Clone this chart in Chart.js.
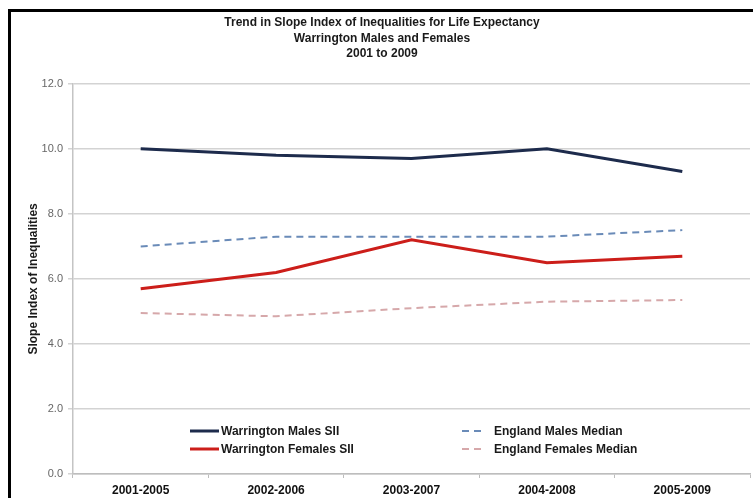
<!DOCTYPE html>
<html>
<head>
<meta charset="utf-8">
<script src="https://cdn.jsdelivr.net/npm/chart.js@4"></script>
<style>
  html, body { margin: 0; padding: 0; background: #ffffff; }
  #wrap { width: 753px; height: 498px; position: relative; overflow: hidden; }
  canvas { display: block; }
</style>
</head>
<body>
<div id="wrap"><canvas id="chart" width="753" height="498"></canvas></div>
<script>
// Rolling five-year periods
const periods = ['2001-2005', '2002-2006', '2003-2007', '2004-2008', '2005-2009'];

// Slope Index of Inequality (years of life expectancy)
const warringtonMales   = [10.0, 9.8, 9.7, 10.0, 9.3];
const warringtonFemales = [5.7, 6.2, 7.2, 6.5, 6.7];
const englandMalesMedian   = [7.0, 7.3, 7.3, 7.3, 7.5];
const englandFemalesMedian = [4.95, 4.85, 5.1, 5.3, 5.35];

const titleLines = [
  'Trend in Slope Index of Inequalities for Life Expectancy',
  'Warrington Males and Females',
  '2001 to 2009'
];
const yAxisTitle = 'Slope Index of Inequalities';

const FONT = "'Liberation Sans', Arial, sans-serif";

// Black frame around the chart (top and left edges)
const framePlugin = {
  id: 'frame',
  beforeDraw(chart) {
    const ctx = chart.ctx;
    ctx.save();
    ctx.fillStyle = '#ffffff';
    ctx.fillRect(0, 0, chart.width, chart.height);
    ctx.fillStyle = '#000000';
    ctx.fillRect(8, 9, chart.width - 8, 3);
    ctx.fillRect(8, 9, 3, chart.height - 9);
    ctx.restore();
  }
};

// Two-column legend laid out inside the plot area
const legendPlugin = {
  id: 'gridLegend',
  afterDatasetsDraw(chart) {
    const ctx = chart.ctx;
    const ds = chart.data.datasets;
    const slots = [
      { x0: 190, x1: 219, tx: 221, y: 431 },
      { x0: 190, x1: 219, tx: 221, y: 449 },
      { x0: 462, x1: 484, tx: 494, y: 431 },
      { x0: 462, x1: 484, tx: 494, y: 449 }
    ];
    ctx.save();
    ctx.font = 'bold 12px ' + FONT;
    ctx.textBaseline = 'middle';
    ctx.textAlign = 'left';
    ds.forEach((d, i) => {
      const s = slots[i];
      ctx.strokeStyle = d.borderColor;
      ctx.lineWidth = d.borderDash && d.borderDash.length ? 2 : 3;
      ctx.setLineDash(d.borderDash || []);
      ctx.beginPath();
      ctx.moveTo(s.x0, s.y);
      ctx.lineTo(s.x1, s.y);
      ctx.stroke();
      ctx.setLineDash([]);
      ctx.fillStyle = '#1a1a1a';
      ctx.fillText(d.label, s.tx, s.y + 0.5);
    });
    ctx.restore();
  }
};

new Chart(document.getElementById('chart'), {
  type: 'line',
  data: {
    labels: periods,
    datasets: [
      {
        label: 'Warrington Males SII',
        data: warringtonMales,
        borderColor: '#1d2b4c',
        borderWidth: 3,
        pointRadius: 0,
        tension: 0
      },
      {
        label: 'Warrington Females SII',
        data: warringtonFemales,
        borderColor: '#cc1e1a',
        borderWidth: 3,
        pointRadius: 0,
        tension: 0
      },
      {
        label: 'England Males Median',
        data: englandMalesMedian,
        borderColor: '#6a8bb8',
        borderWidth: 2,
        borderDash: [7, 5],
        pointRadius: 0,
        tension: 0
      },
      {
        label: 'England Females Median',
        data: englandFemalesMedian,
        borderColor: '#d6a8aa',
        borderWidth: 2,
        borderDash: [7, 5],
        pointRadius: 0,
        tension: 0
      }
    ]
  },
  options: {
    responsive: false,
    devicePixelRatio: 1,
    animation: false,
    layout: { padding: { left: 14, right: 3, top: 0, bottom: 0 } },
    plugins: {
      legend: { display: false },
      tooltip: { enabled: false },
      title: {
        display: true,
        text: titleLines,
        color: '#1a1a1a',
        font: { family: FONT, size: 12, weight: 'bold', lineHeight: 1.3 },
        padding: { top: 15, bottom: 22 }
      }
    },
    scales: {
      x: {
        offset: true,
        grid: {
          offset: true,
          drawOnChartArea: false,
          drawTicks: true,
          tickLength: 4,
          color: '#bdbdbd',
          lineWidth: 1
        },
        border: { display: true, color: '#bdbdbd', width: 1.5 },
        ticks: {
          color: '#111111',
          font: { family: FONT, size: 12, weight: 'bold' },
          padding: 5,
          maxRotation: 0,
          autoSkip: false
        },
        afterFit(scale) { scale.height = 24; }
      },
      y: {
        min: 0,
        max: 12,
        ticks: {
          stepSize: 2,
          color: '#666666',
          font: { family: FONT, size: 11 },
          padding: 5,
          callback: (v) => Number(v).toFixed(1)
        },
        grid: {
          color: '#d3d3d3',
          lineWidth: 1.5,
          drawTicks: true,
          tickLength: 5
        },
        border: { display: true, color: '#c4c4c4', width: 1.5 },
        title: {
          display: true,
          text: yAxisTitle,
          color: '#1a1a1a',
          font: { family: FONT, size: 12, weight: 'bold', lineHeight: 1.2 },
          padding: { top: 12, bottom: 0 }
        },
        afterFit(scale) { scale.width = 59; }
      }
    }
  },
  plugins: [framePlugin, legendPlugin]
});
</script>
</body>
</html>
